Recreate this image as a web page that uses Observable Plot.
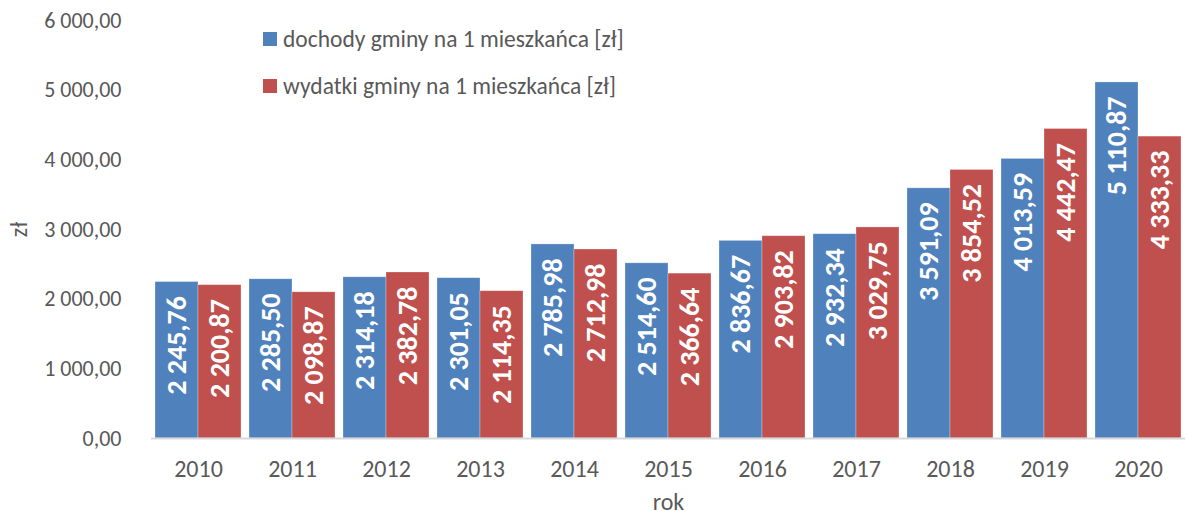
<!DOCTYPE html>
<html><head><meta charset="utf-8">
<script src="https://cdn.jsdelivr.net/npm/d3@7"></script>
<script src="https://cdn.jsdelivr.net/npm/@observablehq/plot@0.6"></script>
<style>
body{margin:0;background:#fff;}
#wrap{position:relative;width:1188px;height:511px;font-family:Carlito,Calibri,Lato,sans-serif;}
.leg{position:absolute;left:263px;font-size:23.5px;line-height:28px;color:#595959;display:flex;align-items:center;white-space:nowrap;}
.sw{width:14px;height:14px;margin-right:6px;display:inline-block;}
</style></head>
<body><div id="wrap"></div>
<script>
const years = ["2010","2011","2012","2013","2014","2015","2016","2017","2018","2019","2020"];
const dochody = [2245.76,2285.50,2314.18,2301.05,2785.98,2514.60,2836.67,2932.34,3591.09,4013.59,5110.87];
const wydatki = [2200.87,2098.87,2382.78,2114.35,2712.98,2366.64,2903.82,3029.75,3854.52,4442.47,4333.33];
const seriesNames = ["dochody gminy na 1 mieszkańca [zł]","wydatki gminy na 1 mieszkańca [zł]"];
const seriesColors = ["#4f81bd","#c0504d"];
const yTicks = [0,1000,2000,3000,4000,5000,6000];

const data = [];
years.forEach((y,i)=>{
  data.push({year:y, series:seriesNames[0], value:dochody[i]});
  data.push({year:y, series:seriesNames[1], value:wydatki[i]});
});
const loc = d3.formatLocale({decimal:",", thousands:"\u00a0", grouping:[3], currency:["",""]});
const fmt = loc.format(",.2f");

const chart = Plot.plot({
  width:1188, height:511,
  marginLeft:148, marginRight:0, marginTop:20, marginBottom:73,
  style:{fontFamily:"Carlito, Calibri, Lato, sans-serif", fontSize:"22px", color:"#595959", background:"#fff"},
  facet:{data, x:"year"},
  fx:{domain:years, padding:0, axis:"bottom", tickSize:0, tickPadding:21, label:"rok", labelAnchor:"center", labelOffset:71, labelArrow:false},
  x:{domain:seriesNames, axis:null, paddingInner:0, paddingOuter:0.09},
  y:{domain:[0,6000], ticks:yTicks, tickFormat:fmt, tickSize:0, tickPadding:30, label:"zł", labelAnchor:"center", labelOffset:142, labelArrow:false},
  color:{domain:seriesNames, range:seriesColors},
  marks:[
    Plot.barY(data,{x:"series", y:"value", fill:"series", stroke:"#ffffff", strokeOpacity:0.35, strokeWidth:0.8}),
    Plot.ruleY([0],{stroke:"#d9d9d9", strokeWidth:2}),
    Plot.text(data,{x:"series", y:"value", text:d=>fmt(d.value), rotate:-90, textAnchor:"end", dy:14, fill:"#ffffff", fontWeight:"bold", fontSize:28})
  ]
});
d3.select(chart).selectAll("text").filter(function(){ return years.includes(this.textContent.trim()); })
  .attr("font-size", 24).style("font-size","24px");
d3.select(chart).selectAll("text").filter(function(){ const t=this.textContent.trim(); return t==="rok" || t==="zł"; })
  .attr("font-size", 24).style("font-size","24px");
const wrap = document.getElementById("wrap");
wrap.appendChild(chart);
seriesNames.forEach((s,i)=>{
  const d = document.createElement("div");
  d.className="leg";
  d.style.top = (25 + i*47) + "px";
  d.innerHTML = `<span class="sw" style="background:${seriesColors[i]}"></span>${s}`;
  wrap.appendChild(d);
});
</script></body></html>
